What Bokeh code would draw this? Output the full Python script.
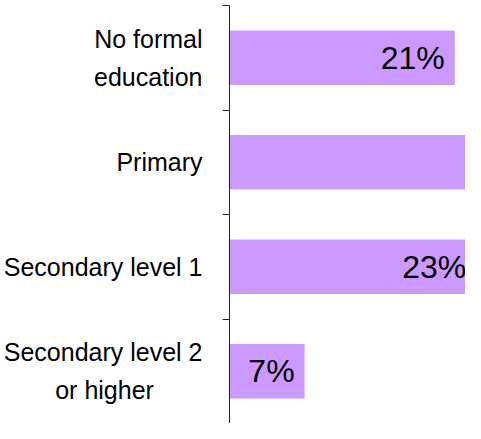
from bokeh.plotting import figure
from bokeh.models import ColumnDataSource, FixedTicker, Range1d
from bokeh.core.properties import value
from bokeh.embed import file_html
from bokeh.resources import INLINE

NBSP = "\u00a0"
categories = ["No formal\neducation", "Primary", "Secondary level 1",
              "Secondary level 2\nor higher" + NBSP * 7]
shares = [21, 49, 23, 7]

X_MAX = 22.0
n = len(categories)
ypos = [n - 0.5 - i for i in range(n)]
bounds = [float(i) for i in range(n + 1)]
# value labels that would sit beyond the visible range are not shown (as in the source)
labels = [f"{v}%" if v <= X_MAX + 2 else "" for v in shares]

src = ColumnDataSource(dict(y=ypos, value=shares, label=labels))

FONT = "Liberation Sans"

p = figure(width=465, height=423, output_backend="svg", toolbar_location=None,
           x_range=Range1d(0, X_MAX), y_range=Range1d(0, n),
           x_axis_location=None, min_border_left=229, min_border_right=0,
           min_border_top=5, min_border_bottom=0)
p.outline_line_color = None
p.grid.visible = False
p.background_fill_color = "white"
p.border_fill_color = "white"

p.hbar(y="y", left=0, right="value", height=0.52, source=src,
       fill_color="#CC99FF", line_color=None)
p.text(x="value", y="y", text="label", source=src, x_offset=-10,
       text_align="right", text_baseline="middle",
       text_font=value(FONT), text_font_size="32px", text_color="black")

ax = p.yaxis[0]
ax.ticker = FixedTicker(ticks=ypos, minor_ticks=bounds)
ax.major_label_overrides = {y: c for y, c in zip(ypos, categories)}
ax.major_tick_in = 0
ax.major_tick_out = 0
ax.minor_tick_in = 0
ax.minor_tick_out = 7
ax.minor_tick_line_color = "#222222"
ax.axis_line_color = "#222222"
ax.major_label_standoff = 20
ax.major_label_text_font = FONT
ax.major_label_text_font_size = "25px"
ax.major_label_text_color = "black"
ax.major_label_text_line_height = 1.35

open("out.html", "w").write(file_html(p, INLINE))
